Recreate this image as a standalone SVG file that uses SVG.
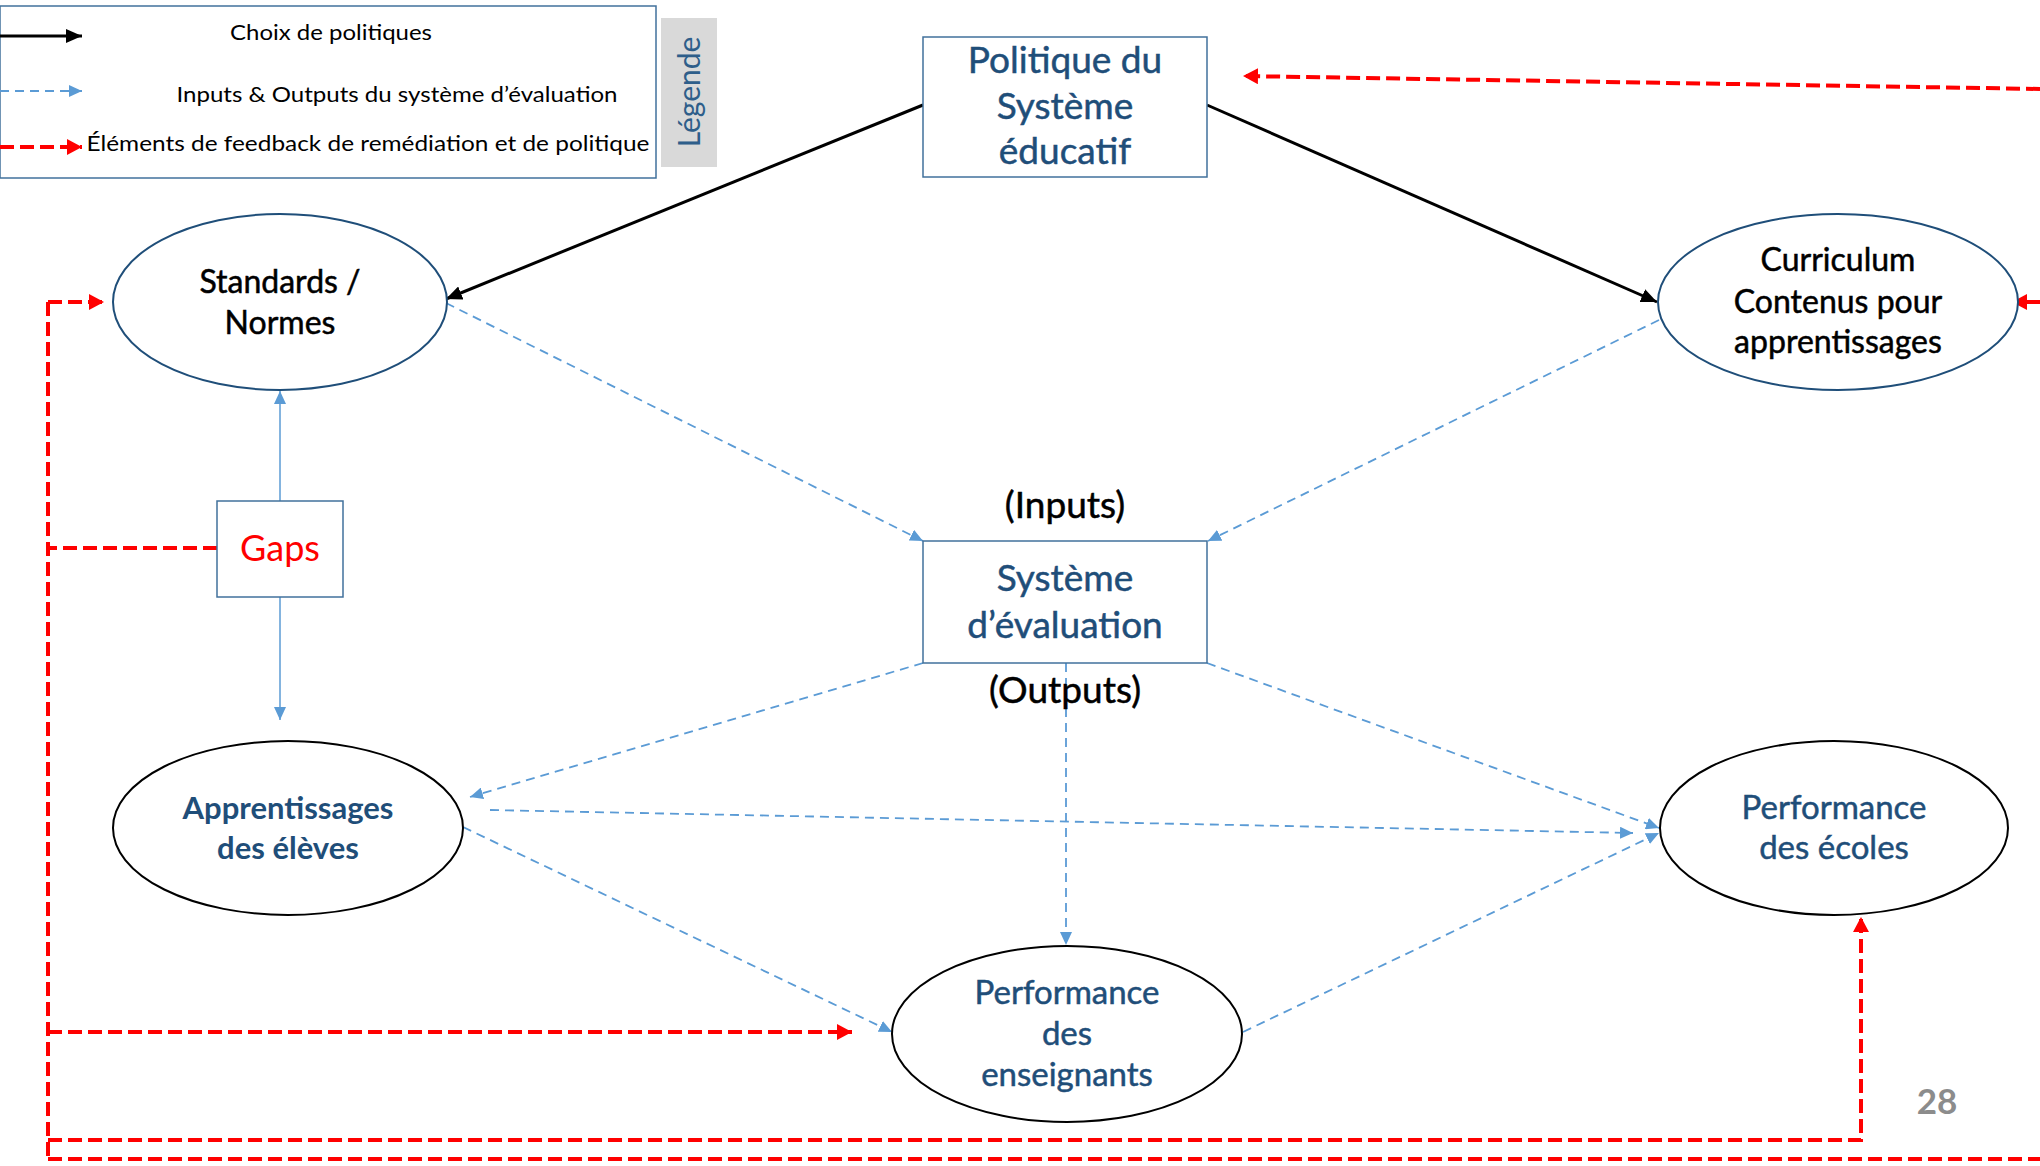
<svg xmlns="http://www.w3.org/2000/svg" width="2040" height="1166" viewBox="0 0 2040 1166">
<defs>
<style>
.t{font-family:Lato,"Open Sans","Liberation Sans",sans-serif;text-anchor:middle}
.nb{fill:#1F4E79;stroke:#1F4E79;stroke-width:0.5;font-size:33px}
.nk{fill:#000;stroke:#000;stroke-width:0.5;font-size:32px}
.lg{fill:#000;font-size:22px}
.box{fill:#fff;stroke:#41719C;stroke-width:1.5}
.ellb{fill:#fff;stroke:#1F4E79;stroke-width:2}
.ellk{fill:#fff;stroke:#000;stroke-width:2}
.blk{fill:none;stroke:#000;stroke-width:3}
.blu{fill:none;stroke:#5B9BD5;stroke-width:1.8;stroke-dasharray:9 6}
.blus{fill:none;stroke:#5B9BD5;stroke-width:1.5}
.red{fill:none;stroke:#FF0000;stroke-width:4;stroke-dasharray:14 6}
</style>
<marker id="ak" markerUnits="userSpaceOnUse" markerWidth="18" markerHeight="14" refX="16" refY="7" orient="auto"><path d="M0,0 L16,7 L0,14 Z" fill="#000"/></marker>
<marker id="ab" markerUnits="userSpaceOnUse" markerWidth="14" markerHeight="12" refX="13" refY="6" orient="auto"><path d="M0,0 L13,6 L0,12 Z" fill="#5B9BD5"/></marker>
<marker id="ar" markerUnits="userSpaceOnUse" markerWidth="16" markerHeight="16" refX="15" refY="8" orient="auto"><path d="M0,0 L15,8 L0,16 Z" fill="#FF0000"/></marker>
</defs>
<rect width="2040" height="1166" fill="#fff"/>

<g id="legend">
<rect x="0" y="6" width="656" height="172" fill="#fff" stroke="#41719C" stroke-width="1.5"/>
<line x1="0" y1="36" x2="82" y2="36" class="blk" stroke-width="2.5" marker-end="url(#ak)"/>
<line x1="0" y1="91" x2="82" y2="91" class="blu" marker-end="url(#ab)"/>
<line x1="0" y1="147" x2="82" y2="147" class="red" stroke-width="2.5" stroke-dasharray="10 5" marker-end="url(#ar)"/>
<text class="t lg" x="331" y="40" textLength="202" lengthAdjust="spacingAndGlyphs">Choix de politiques</text>
<text class="t lg" x="397" y="102" textLength="441" lengthAdjust="spacingAndGlyphs">Inputs &amp; Outputs du système d’évaluation</text>
<text class="t lg" x="368" y="151" textLength="563" lengthAdjust="spacingAndGlyphs">Éléments de feedback de remédiation  et de politique</text>
<rect x="661" y="18" width="56" height="149" fill="#D9D9D9"/>
<text class="t" x="0" y="0" transform="translate(700,92) rotate(-90)" style="fill:#2E5E8A;font-size:30px">Légende</text>
</g>

<g id="connectors">
<line x1="923" y1="105" x2="446" y2="299" class="blk" marker-end="url(#ak)"/>
<line x1="1207" y1="105" x2="1657" y2="302" class="blk" marker-end="url(#ak)"/>
<line x1="446" y1="303" x2="923" y2="541" class="blu" marker-end="url(#ab)"/>
<line x1="1659" y1="320" x2="1208" y2="541" class="blu" marker-end="url(#ab)"/>
<line x1="923" y1="663" x2="470" y2="797" class="blu" marker-end="url(#ab)"/>
<line x1="1066" y1="663" x2="1066" y2="945" class="blu" marker-end="url(#ab)"/>
<line x1="1207" y1="663" x2="1659" y2="828" class="blu" marker-end="url(#ab)"/>
<line x1="490" y1="810" x2="1633" y2="833" class="blu" stroke-dasharray="14 6" marker-end="url(#ab)"/>
<line x1="463" y1="827" x2="892" y2="1032" class="blu" marker-end="url(#ab)"/>
<line x1="1243" y1="1032" x2="1659" y2="833" class="blu" marker-end="url(#ab)"/>
<line x1="280" y1="501" x2="280" y2="391" class="blus" marker-end="url(#ab)"/>
<line x1="280" y1="597" x2="280" y2="720" class="blus" marker-end="url(#ab)"/>
<line x1="2040" y1="89" x2="1243" y2="76" class="red" marker-end="url(#ar)"/>
<line x1="2040" y1="302" x2="2012" y2="302" class="red" marker-end="url(#ar)"/>
<line x1="48" y1="302" x2="48" y2="1159" class="red"/>
<line x1="48" y1="302" x2="104" y2="302" class="red" marker-end="url(#ar)"/>
<line x1="217" y1="548" x2="48" y2="548" class="red"/>
<line x1="48" y1="1032" x2="852" y2="1032" class="red" marker-end="url(#ar)"/>
<polyline points="48,1140 1861,1140 1861,917" class="red" marker-end="url(#ar)"/>
<line x1="48" y1="1159" x2="2040" y2="1159" class="red"/>
</g>

<g id="politique">
<rect x="923" y="37" width="284" height="140" class="box"/>
<text class="t nb" x="1065" y="73" style="font-size:37px">Politique du</text>
<text class="t nb" x="1065" y="119" style="font-size:37px">Système</text>
<text class="t nb" x="1065" y="164" style="font-size:37px">éducatif</text>
</g>

<g id="standards">
<ellipse cx="280" cy="302" rx="167" ry="88" class="ellb"/>
<text class="t nk" x="280" y="293">Standards /</text>
<text class="t nk" x="280" y="334">Normes</text>
</g>

<g id="curriculum">
<ellipse cx="1838" cy="302" rx="180" ry="88" class="ellb"/>
<text class="t nk" x="1838" y="271">Curriculum</text>
<text class="t nk" x="1838" y="313">Contenus pour</text>
<text class="t nk" x="1838" y="353">apprentissages</text>
</g>

<g id="gaps">
<rect x="217" y="501" width="126" height="96" class="box"/>
<text class="t" x="280" y="561" style="fill:#FF0000;font-size:36px">Gaps</text>
</g>

<g id="systeme">
<rect x="923" y="541" width="284" height="122" class="box"/>
<text class="t nb" x="1065" y="591" style="font-size:37px">Système</text>
<text class="t nb" x="1065" y="638" style="font-size:37px">d’évaluation</text>
<text class="t nk" x="1065" y="518" style="font-size:37px">(Inputs)</text>
<text class="t nk" x="1065" y="703" style="font-size:37px">(Outputs)</text>
</g>

<g id="apprentissages">
<ellipse cx="288" cy="828" rx="175" ry="87" class="ellk"/>
<text class="t nb" x="288" y="819" style="font-weight:700;font-size:31px;stroke-width:0">Apprentissages</text>
<text class="t nb" x="288" y="859" style="font-weight:700;font-size:31px;stroke-width:0">des élèves</text>
</g>

<g id="enseignants">
<ellipse cx="1067" cy="1034" rx="175" ry="88" class="ellk"/>
<text class="t nb" x="1067" y="1004">Performance</text>
<text class="t nb" x="1067" y="1045">des</text>
<text class="t nb" x="1067" y="1086">enseignants</text>
</g>

<g id="ecoles">
<ellipse cx="1834" cy="828" rx="174" ry="87" class="ellk"/>
<text class="t nb" x="1834" y="819">Performance</text>
<text class="t nb" x="1834" y="859">des écoles</text>
</g>

<text class="t" x="1937" y="1114" style="fill:#8C8C8C;font-size:35px;font-weight:700">28</text>
</svg>
